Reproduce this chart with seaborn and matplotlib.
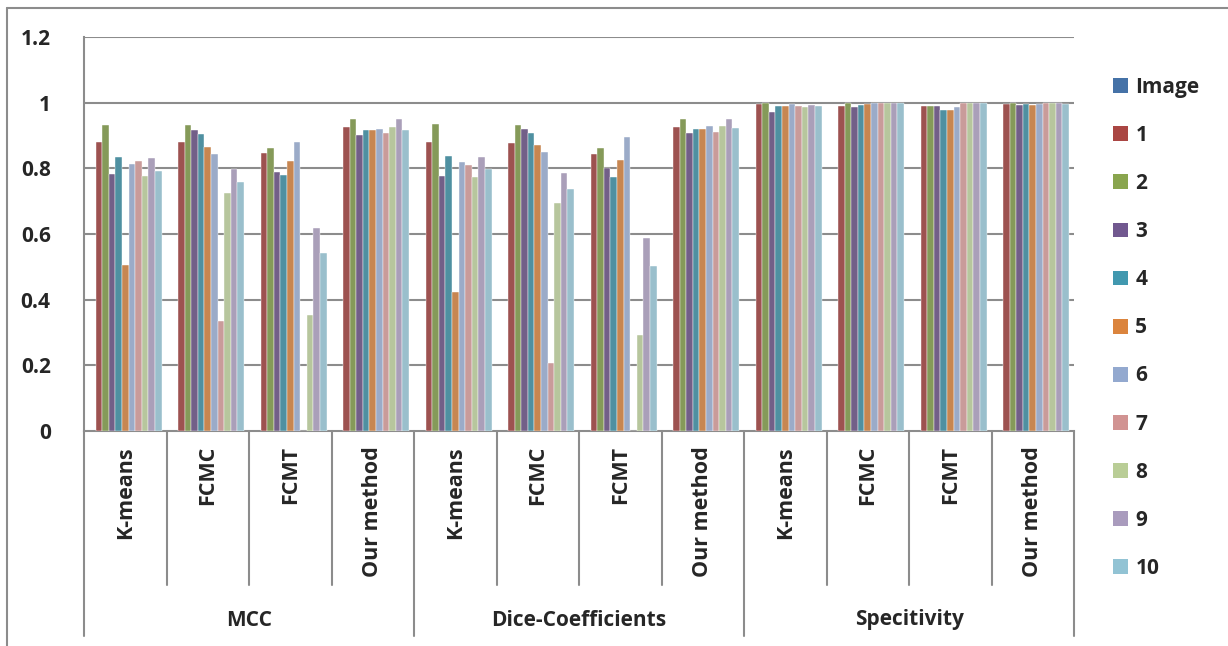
import numpy as np
import pandas as pd
import seaborn as sns
import matplotlib.pyplot as plt
from matplotlib.patches import Patch
from matplotlib.lines import Line2D

# Category levels
metrics = ['MCC', 'Dice-Coefficients', 'Specitivity']
methods = ['K-means', 'FCMC', 'FCMT', 'Our method']
series = ['Image', '1', '2', '3', '4', '5', '6', '7', '8', '9', '10']

# Values per method (rows) for images 1..10 (columns)
mcc = [
    [0.879, 0.932, 0.783, 0.833, 0.505, 0.813, 0.821, 0.778, 0.830, 0.793],
    [0.881, 0.932, 0.916, 0.905, 0.865, 0.844, 0.335, 0.726, 0.798, 0.758],
    [0.847, 0.863, 0.790, 0.780, 0.822, 0.881, 0.0, 0.352, 0.618, 0.541],
    [0.925, 0.950, 0.902, 0.917, 0.916, 0.921, 0.909, 0.927, 0.949, 0.917],
]
dice = [
    [0.881, 0.935, 0.777, 0.839, 0.423, 0.820, 0.811, 0.773, 0.836, 0.799],
    [0.877, 0.932, 0.920, 0.908, 0.870, 0.850, 0.206, 0.695, 0.785, 0.738],
    [0.845, 0.863, 0.802, 0.773, 0.824, 0.894, 0.0, 0.292, 0.588, 0.504],
    [0.925, 0.951, 0.908, 0.921, 0.921, 0.928, 0.911, 0.929, 0.951, 0.922],
]
spec = [
    [0.995, 0.999, 0.972, 0.991, 0.989, 0.996, 0.990, 0.988, 0.992, 0.990],
    [0.990, 0.999, 0.986, 0.992, 0.996, 0.999, 0.999, 1.000, 1.000, 1.000],
    [0.991, 0.991, 0.989, 0.978, 0.979, 0.986, 0.999, 1.000, 1.000, 1.000],
    [0.995, 0.999, 0.993, 0.995, 0.993, 0.995, 0.999, 0.999, 0.998, 0.996],
]

colors = ['#4572A7', '#AA4643', '#89A54E', '#71588F', '#4198AF', '#DB843D',
          '#93A9CF', '#D19392', '#B9CD96', '#A99BBD', '#92C3D4']

# Build long table; the "Image" series has no values
rows = []
for metric, table in zip(metrics, [mcc, dice, spec]):
    for method, vals in zip(methods, table):
        group = metric + ' / ' + method
        rows.append({'group': group, 'series': 'Image', 'value': np.nan})
        for s, v in zip(series[1:], vals):
            rows.append({'group': group, 'series': s, 'value': v})
df = pd.DataFrame(rows)
group_order = list(dict.fromkeys(df['group']))

sns.set_style('white')
plt.rcParams['font.family'] = ['Open Sans', 'DejaVu Sans']
plt.rcParams['font.weight'] = 'bold'
fs = 15

fig = plt.figure(figsize=(12.28, 6.46), dpi=100)
ax = fig.add_axes([84 / 1228, 1 - 431 / 646, 990 / 1228, 394 / 646])

sns.barplot(data=df, x='group', y='value', hue='series', order=group_order,
            hue_order=series, palette=colors, width=0.88, legend=False,
            edgecolor='white', linewidth=0.3, ax=ax, zorder=3)

grid_c = '#8c8c8c'
ax.set_ylim(0, 1.2)
ax.set_xlim(-0.5, len(group_order) - 0.5)
yt = [0, 0.2, 0.4, 0.6, 0.8, 1.0, 1.2]
ax.set_yticks(yt)
ax.set_yticklabels(['0', '0.2', '0.4', '0.6', '0.8', '1', '1.2'],
                   fontsize=fs, fontweight='bold')
ax.tick_params(axis='y', length=6, color=grid_c, width=1.5, pad=18)
ax.set_xticks([])
ax.set_xlabel('')
ax.set_ylabel('')
for y in yt[1:]:
    ax.axhline(y, color=grid_c, lw=1.5, zorder=1)
for side in ['top', 'right']:
    ax.spines[side].set_visible(False)
for side in ['left', 'bottom']:
    ax.spines[side].set_color(grid_c)
    ax.spines[side].set_linewidth(1.5)

# Two-level category axis
trans = ax.get_xaxis_transform()
px = 1 / 394
for i in range(len(group_order) + 1):
    xb = i - 0.5
    bottom = -205 * px if i % 4 == 0 else -154 * px
    ax.add_line(Line2D([xb, xb], [0, bottom], transform=trans, color=grid_c,
                       lw=1.5, clip_on=False))
for i, g in enumerate(group_order):
    ax.text(i, -15 * px, g.split(' / ')[1], transform=trans, rotation=90,
            ha='center', va='top', fontsize=fs + 0.5, fontweight='bold')
for k, metric in enumerate(metrics):
    ax.text(4 * k + 1.5, -189 * px, metric, transform=trans, ha='center',
            va='center', fontsize=fs, fontweight='bold')

# Legend
handles = [Patch(facecolor=c, edgecolor='none') for c in colors]
fig.legend(handles, series, loc='upper left',
           bbox_to_anchor=(1113 / 1228, 1 - 77 / 646), frameon=False,
           prop={'size': fs, 'weight': 'bold'}, labelspacing=1.30,
           handlelength=0.72, handleheight=0.72, handletextpad=0.35,
           borderpad=0, borderaxespad=0)

# Chart frame (partially cropped in the original)
fig.add_artist(Line2D([7 / 1228, 1], [1 - 8 / 646, 1 - 8 / 646],
                      color=grid_c, lw=1.5))
fig.add_artist(Line2D([7 / 1228, 7 / 1228], [0, 1 - 8 / 646],
                      color=grid_c, lw=1.5))

fig.savefig('out.png', dpi=100, facecolor='white')
